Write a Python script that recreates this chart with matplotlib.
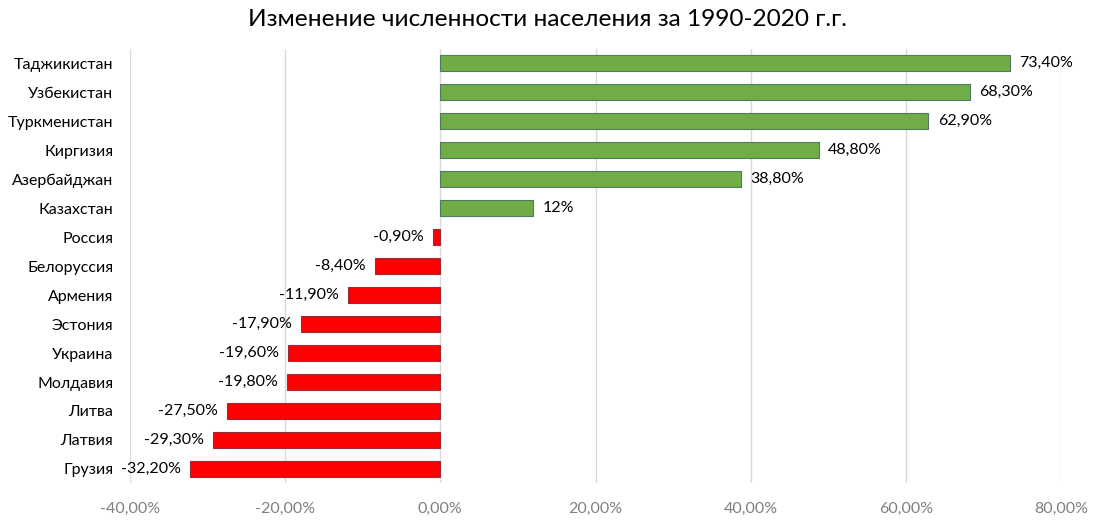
import matplotlib.pyplot as plt
from matplotlib.ticker import FuncFormatter

plt.rcParams['font.family'] = ['Lato', 'DejaVu Sans']

countries = ['Таджикистан', 'Узбекистан', 'Туркменистан', 'Киргизия', 'Азербайджан',
             'Казахстан', 'Россия', 'Белоруссия', 'Армения', 'Эстония', 'Украина',
             'Молдавия', 'Литва', 'Латвия', 'Грузия']
change = [73.4, 68.3, 62.9, 48.8, 38.8, 12.0, -0.9, -8.4, -11.9, -17.9, -19.6,
          -19.8, -27.5, -29.3, -32.2]
value_labels = ['73,40%', '68,30%', '62,90%', '48,80%', '38,80%', '12%', '-0,90%',
                '-8,40%', '-11,90%', '-17,90%', '-19,60%', '-19,80%', '-27,50%',
                '-29,30%', '-32,20%']
xticks = [-40, -20, 0, 20, 40, 60, 80]

fig = plt.figure(figsize=(10.95, 5.24), dpi=100)
ax = fig.add_axes([0.1187, 0.0773, 0.8503, 0.8301])

pos = list(range(len(countries)))
colors = ['#70ad47' if v > 0 else '#ff0000' for v in change]
edges = ['#4f7a5e' if v > 0 else '#9c2b3a' for v in change]
ax.barh(pos, change, height=0.55, color=colors, edgecolor=edges, linewidth=0.8, zorder=3)

# подписи значений у концов столбцов
for y, v, lab in zip(pos, change, value_labels):
    if v > 0:
        ax.text(v + 1.2, y, lab, va='center', ha='left', fontsize=11.5, color='#000000')
    else:
        ax.text(v - 1.2, y, lab, va='center', ha='right', fontsize=11.5, color='#000000')

ax.set_xlim(-40, 80)
ax.set_ylim(len(countries) - 0.5, -0.5)
ax.set_xticks(xticks)
ax.xaxis.set_major_formatter(FuncFormatter(lambda x, p: f'{x:.2f}'.replace('.', ',') + '%'))
ax.set_yticks(pos)
ax.set_yticklabels(countries)
ax.tick_params(axis='x', colors='#808080', labelsize=11.5, length=0, pad=13)
ax.tick_params(axis='y', labelsize=11.5, length=0, pad=12)
for lbl in ax.get_yticklabels():
    lbl.set_color('#000000')
ax.grid(axis='x', color='#d9d9d9', linewidth=1, zorder=0)
for s in ax.spines.values():
    s.set_visible(False)

fig.text(0.5, 0.962, 'Изменение численности населения за 1990-2020 г.г.',
         fontsize=17.6, ha='center', va='center')

fig.savefig('out.png', dpi=100)
